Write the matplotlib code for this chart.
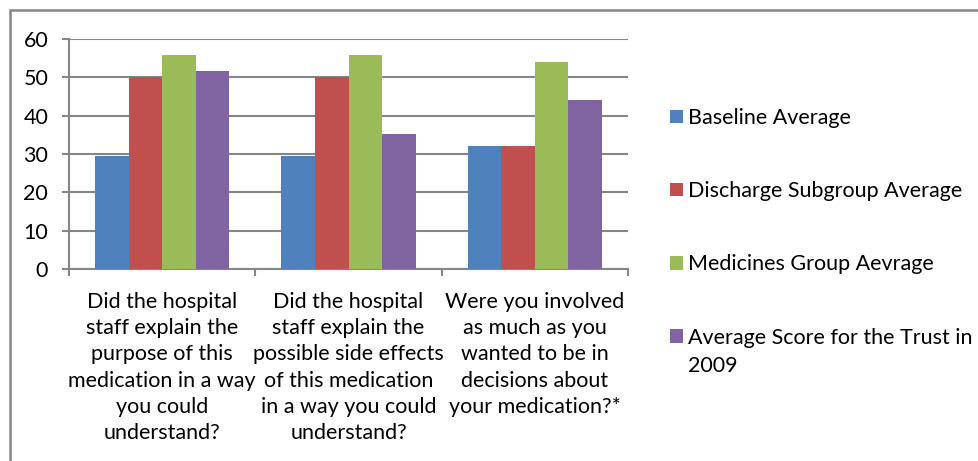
import numpy as np
import matplotlib
matplotlib.use('Agg')
import matplotlib.pyplot as plt
import matplotlib.patches as patches

plt.rcParams['font.family'] = ['Lato', 'DejaVu Sans']

# Survey questions (category labels, pre-wrapped)
questions = [
    'Did the hospital\nstaff explain the\npurpose of this\nmedication in a way\nyou could\nunderstand?',
    'Did the hospital\nstaff explain the\npossible side effects\nof this medication\nin a way you could\nunderstand?',
    'Were you involved\nas much as you\nwanted to be in\ndecisions about\nyour medication?*',
]

series_names = [
    'Baseline Average',
    'Discharge Subgroup Average',
    'Medicines Group Aevrage',
    'Average Score for the Trust in',
]
trust_year = '2009'  # wraps onto a second legend line
baseline = [29.4, 29.4, 32.2]
discharge = [50.0, 50.0, 32.2]
medicines = [55.8, 55.8, 54.0]
trust_2009 = [51.7, 35.2, 44.0]

colors = ['#4F81BD', '#C0504D', '#9BBB59', '#8064A2']
grid_gray = '#868686'
fs = 15.5

fig = plt.figure(figsize=(9.79, 4.61), dpi=100)
ax = fig.add_axes([0.0705, 0.4165, 0.571, 0.499])

x = np.arange(len(questions))
width = 0.18
series = [baseline, discharge, medicines, trust_2009]
for i, (vals, name, c) in enumerate(zip(series, series_names, colors)):
    ax.bar(x + (i - 1.5) * width, vals, width, color=c, label=name,
           zorder=3, linewidth=0)

ax.set_ylim(0, 60)
ax.set_xlim(-0.5, len(questions) - 0.5)
ax.set_yticks(np.arange(0, 61, 10))
ax.yaxis.grid(True, color=grid_gray, linewidth=1.5, zorder=0)
ax.set_axisbelow(True)

for side in ['top', 'right']:
    ax.spines[side].set_visible(False)
for side in ['left', 'bottom']:
    ax.spines[side].set_color(grid_gray)
    ax.spines[side].set_linewidth(1.5)

ax.tick_params(axis='y', length=5, width=1.5, color=grid_gray,
               labelsize=fs, pad=10)
# category boundaries get the tick marks, labels sit in between
ax.set_xticks(np.arange(-0.5, len(questions), 1.0))
ax.set_xticklabels([])
ax.tick_params(axis='x', length=5, width=1.5, color=grid_gray)
for xi, q in zip(x, questions):
    ax.text(xi, -6.0, q, ha='center', va='top', fontsize=fs,
            linespacing=1.39, transform=ax.transData)

leg = fig.legend(loc='upper left', bbox_to_anchor=(0.6844, 0.7657),
                 frameon=False, fontsize=fs, handlelength=0.6,
                 handleheight=0.6, handletextpad=0.25, labelspacing=2.47,
                 borderpad=0, borderaxespad=0)
# second line of the last legend entry (drawn after the legend is placed)
fig.add_artist(plt.Annotation(trust_year, xy=(0, 0), xycoords=leg.texts[3],
                              xytext=(0, -28), textcoords='offset pixels',
                              ha='left', va='bottom', fontsize=fs, zorder=10))

# outer chart border (left and top edges visible)
fig.add_artist(patches.Rectangle((10 / 979, -0.1), 1.2, 1.1 - 10 / 461,
                                 transform=fig.transFigure, fill=False,
                                 edgecolor=grid_gray, linewidth=1.8))

fig.savefig('out.png', dpi=100)
